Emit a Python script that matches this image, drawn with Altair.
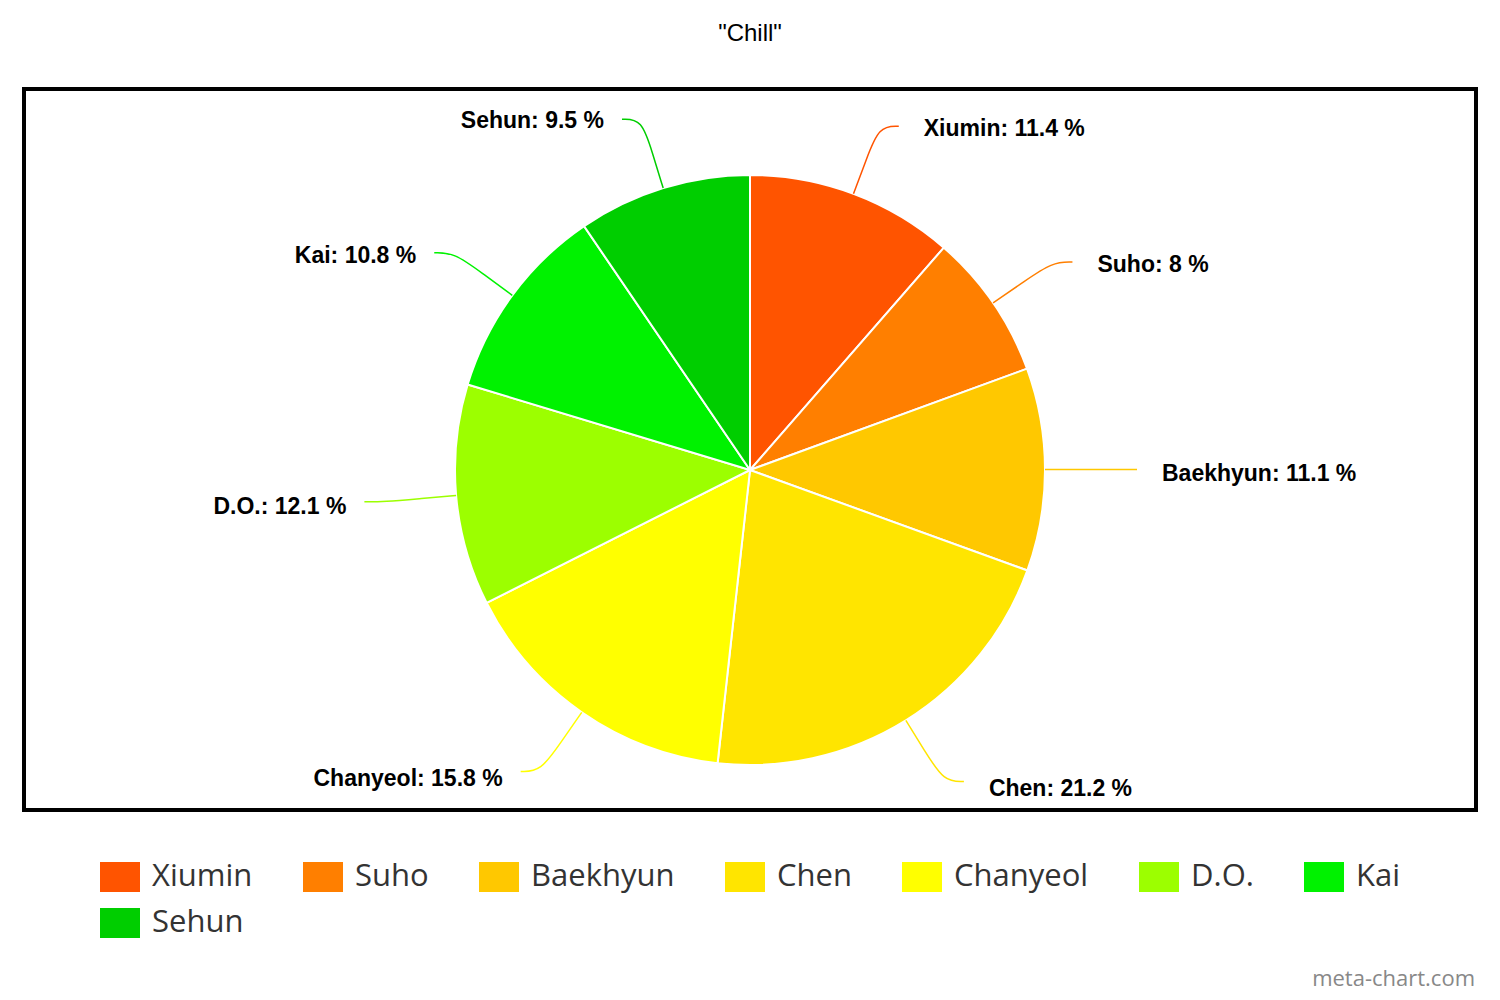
import altair as alt
import pandas as pd

names = ["Xiumin", "Suho", "Baekhyun", "Chen", "Chanyeol", "D.O.", "Kai", "Sehun"]
values = [11.4, 8, 11.1, 21.2, 15.8, 12.1, 10.8, 9.5]
colors = ["#FF5400", "#FF7F00", "#FFC800", "#FFE500", "#FFFF00", "#9CFF00", "#00F200", "#00CE00"]
title_text = '"Chill"'
watermark = "meta-chart.com"

df = pd.DataFrame({"name": names, "value": values, "idx": list(range(len(names)))})

W, H = 1452, 721
CX, CY, R = 726, 381, 295

legend = alt.Legend(
    title=None, orient="none", legendX=76, legendY=768, direction="horizontal",
    columns=7, symbolType="M-1,-0.75H1V0.75H-1Z", symbolSize=1600,
    symbolStrokeWidth=0, symbolOpacity=1, labelFont="Open Sans", labelFontSize=31,
    labelColor="#333333", labelOffset=12, columnPadding=50, rowPadding=11, padding=0,
    labelLimit=300,
)
color = alt.Color("name:N", scale=alt.Scale(domain=names, range=colors), sort=names, legend=legend)

base = alt.Chart(df)

pie = base.mark_arc(outerRadius=R, stroke="white", strokeWidth=2).encode(
    theta=alt.Theta("value:Q", stack=True),
    color=color,
    order=alt.Order("idx:Q"),
    x=alt.value(CX),
    y=alt.value(CY),
)

geo = base.transform_joinaggregate(total="sum(value)").transform_window(
    cum="sum(value)", sort=[alt.SortField("idx")], frame=[None, 0]
).transform_calculate(
    mid="2*PI*(datum.cum - datum.value/2)/datum.total",
).transform_calculate(
    side="sin(datum.mid) >= 0 ? 1 : -1",
    label="datum.name + ': ' + datum.value + ' %'",
)

lines = geo.transform_calculate(
    r0=str(R), r1="332", r2="367", r3="367"
).transform_fold(["r0", "r1", "r2", "r3"], as_=["k", "r"]).transform_calculate(
    lx=f"{CX} + datum.r*sin(datum.mid) + (datum.k == 'r3' ? datum.side*20 : 0)",
    ly=f"{CY} - datum.r*cos(datum.mid)",
).mark_line(interpolate="basis", strokeWidth=1.5).encode(
    x=alt.X("lx:Q", scale=None),
    y=alt.Y("ly:Q", scale=None),
    color=color,
    detail="name:N",
    order=alt.Order("k:N"),
)

lab = geo.transform_calculate(
    tx=f"{CX} + 367*sin(datum.mid) + datum.side*(datum.side > 0 ? 45 : 38)",
    ty=f"{CY} - 367*cos(datum.mid) + 2 + 3*(1 - cos(datum.mid))",
)
lab_style = dict(baseline="middle", font="Liberation Sans", fontWeight="bold", fontSize=23, color="black")
labels_r = lab.transform_filter("datum.side > 0").mark_text(align="left", **lab_style).encode(
    x=alt.X("tx:Q", scale=None), y=alt.Y("ty:Q", scale=None), text="label:N"
)
labels_l = lab.transform_filter("datum.side < 0").mark_text(align="right", **lab_style).encode(
    x=alt.X("tx:Q", scale=None), y=alt.Y("ty:Q", scale=None), text="label:N"
)

title = alt.Chart(pd.DataFrame({"t": [title_text]})).mark_text(
    align="center", baseline="middle", font="Liberation Sans", fontSize=24, color="black"
).encode(x=alt.value(CX), y=alt.value(-55), text="t:N")

wm = alt.Chart(pd.DataFrame({"t": [watermark]})).mark_text(
    align="right", baseline="middle", font="Open Sans", fontSize=22, color="#888888"
).encode(x=alt.value(W - 1), y=alt.value(890), text="t:N")

chart = alt.layer(pie, lines, labels_r, labels_l, title, wm).properties(
    width=W, height=H,
    autosize=alt.AutoSizeParams(type="none"),
    padding={"left": 16, "top": 81, "right": 16, "bottom": 190},
).configure_view(stroke="black", strokeWidth=4)

chart.save("out.html", embed_options={"renderer": "svg", "actions": False})
